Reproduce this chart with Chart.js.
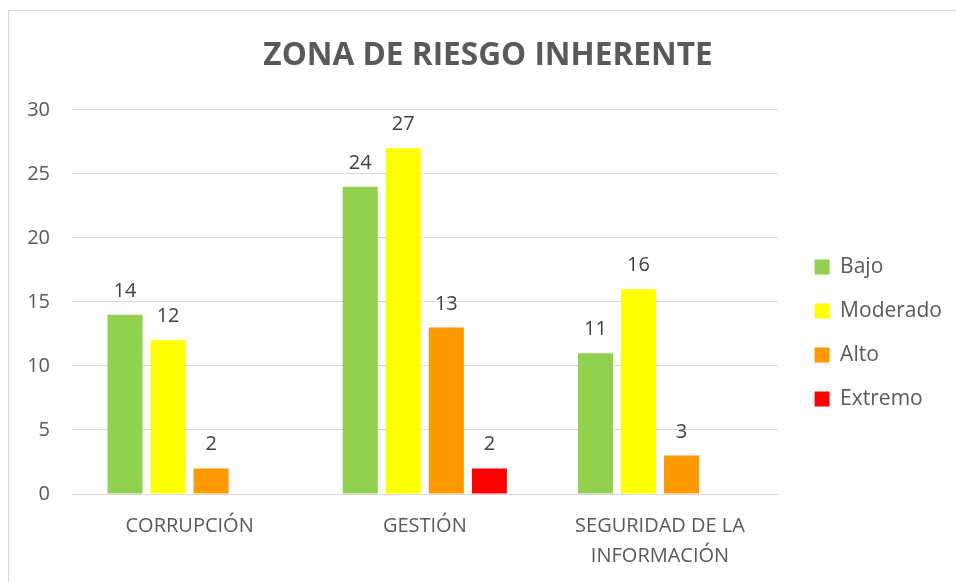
<!DOCTYPE html>
<html>
<head>
<meta charset="utf-8">
<script src="https://cdn.jsdelivr.net/npm/chart.js@4"></script>
<style>
  html, body { margin: 0; padding: 0; background: #fff; overflow: hidden; width: 956px; height: 582px; }
  #frame { position: absolute; left: 8px; top: 10px; width: 1200px; height: 1000px; border: 1px solid #D9D9D9; box-sizing: border-box; }
  #wrap { position: absolute; left: 8px; top: 10px; width: 960px; height: 572px; }
</style>
</head>
<body>
<div id="frame"></div>
<div id="wrap"><canvas id="c" width="960" height="572"></canvas></div>
<script>
const titleText = 'ZONA DE RIESGO INHERENTE';
const categories = ['CORRUPCIÓN', 'GESTIÓN', ['SEGURIDAD DE LA', 'INFORMACIÓN']];
const seriesNames = ['Bajo', 'Moderado', 'Alto', 'Extremo'];
const bajo = [14, 24, 11];
const moderado = [12, 27, 16];
const alto = [2, 13, 3];
const extremo = [null, 2, null];
const seriesColors = ['#92D050', '#FFFF00', '#FF9900', '#FF0000'];
const yTicks = [0, 5, 10, 15, 20, 25, 30];

const seriesValues = [bajo, moderado, alto, extremo];
const datasets = seriesNames.map((name, i) => ({
  label: name,
  data: seriesValues[i],
  backgroundColor: seriesColors[i],
  borderWidth: 0,
  categoryPercentage: 0.732,
  barPercentage: 0.814
}));

const dataLabels = {
  id: 'dataLabels',
  afterDatasetsDraw(chart) {
    const ctx = chart.ctx;
    ctx.save();
    ctx.font = '20px "Open Sans"';
    ctx.fillStyle = '#404040';
    ctx.textAlign = 'center';
    ctx.textBaseline = 'alphabetic';
    chart.data.datasets.forEach((ds, di) => {
      const meta = chart.getDatasetMeta(di);
      meta.data.forEach((el, i) => {
        const v = ds.data[i];
        if (v === null || v === undefined) return;
        ctx.fillText(String(v), el.x, el.y - 18);
      });
    });
    ctx.restore();
  }
};

const boxShift = {
  id: 'boxShift',
  afterLayout(chart) {
    const lg = chart.legend;
    if (lg) {
      lg.left += 14; lg.right += 14;
      lg.top += 37; lg.bottom += 37;
    }
    const tb = chart.titleBlock;
    if (tb) { tb.left += 15; tb.right += 15; }
  }
};

new Chart(document.getElementById('c'), {
  type: 'bar',
  data: { labels: categories, datasets },
  plugins: [dataLabels, boxShift],
  options: {
    responsive: false,
    animation: false,
    devicePixelRatio: 1,
    layout: { padding: { left: 0, right: 30, top: 0, bottom: 0 } },
    plugins: {
      title: {
        display: true,
        text: titleText,
        color: '#595959',
        font: { family: '"Open Sans"', size: 31.6, weight: 'bold' },
        padding: { top: 27, bottom: 35 }
      },
      legend: {
        position: 'right',
        labels: {
          color: '#595959',
          font: { family: '"Open Sans"', size: 21 },
          boxWidth: 15,
          boxHeight: 15,
          padding: 23
        }
      },
      tooltip: { enabled: false }
    },
    scales: {
      x: {
        grid: { display: false, drawTicks: false },
        border: { color: '#D9D9D9', width: 1 },
        ticks: {
          color: '#595959',
          font: { family: '"Open Sans"', size: 20, lineHeight: 1.5 },
          padding: 17,
          maxRotation: 0,
          autoSkip: false
        },
        afterFit(scale) { scale.height = 88; }
      },
      y: {
        min: 0,
        max: 30,
        afterBuildTicks(scale) { scale.ticks = yTicks.map(v => ({ value: v })); },
        grid: { color: '#D9D9D9', lineWidth: 1, drawTicks: false },
        border: { display: false },
        ticks: {
          color: '#595959',
          font: { family: '"Open Sans"', size: 20 },
          padding: 22
        },
        afterFit(scale) { scale.width = 64; }
      }
    }
  }
});
</script>
</body>
</html>
